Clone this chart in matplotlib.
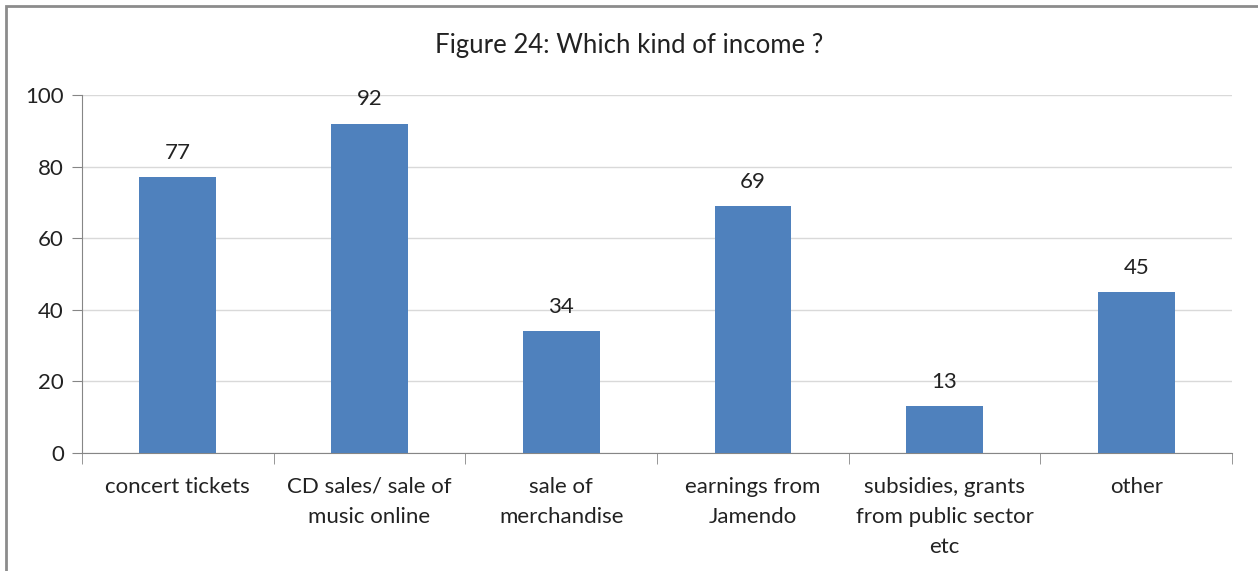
import matplotlib.pyplot as plt
from matplotlib.patches import Rectangle
import numpy as np

plt.rcParams['font.family'] = ['Lato', 'DejaVu Sans']

# data
categories = ['concert tickets', 'CD sales/ sale of\nmusic online', 'sale of\nmerchandise',
              'earnings from\nJamendo', 'subsidies, grants\nfrom public sector\netc', 'other']
values = [77, 92, 34, 69, 13, 45]
yticks = [0, 20, 40, 60, 80, 100]

fig = plt.figure(figsize=(12.58, 5.71), dpi=100)
ax = fig.add_axes([82 / 1258, 1 - 453 / 571, 1150 / 1258, 358 / 571])

x = np.arange(len(values))
ax.bar(x, values, width=0.4, color='#4f81bd', zorder=3)
for xi, v in zip(x, values):
    ax.text(xi, v + 4, str(v), ha='center', va='bottom', fontsize=16, color='#222222')

ax.set_xlim(-0.5, len(values) - 0.5)
ax.set_ylim(0, 100)
ax.set_yticks(yticks)
ax.tick_params(axis='y', labelsize=16, length=7, color='#868686', pad=6, labelcolor='#222222')
ax.set_xticks(x)
ax.set_xticklabels(categories, fontsize=16, color='#222222', linespacing=1.65)
ax.tick_params(axis='x', length=0, pad=17)
# category separator ticks
ax.set_xticks(np.arange(-0.5, len(values)), minor=True)
ax.tick_params(axis='x', which='minor', length=8, color='#868686', direction='out')
ax.grid(axis='y', color='#d9d9d9', linewidth=1, zorder=0)

for s in ['top', 'right']:
    ax.spines[s].set_visible(False)
ax.spines['left'].set_color('#868686')
ax.spines['bottom'].set_color('#868686')

fig.text(0.5, 1 - 46 / 571, 'Figure 24: Which kind of income ?', ha='center', va='center',
         fontsize=18.5, color='#222222')

# chart border (top and left visible)
fig.patches.append(Rectangle((6 / 1258, -0.1), 1.2, 1 - 6 / 571 + 0.1, transform=fig.transFigure,
                             fill=False, edgecolor='#8c8c8c', linewidth=2))

fig.savefig('out.png', dpi=100)
